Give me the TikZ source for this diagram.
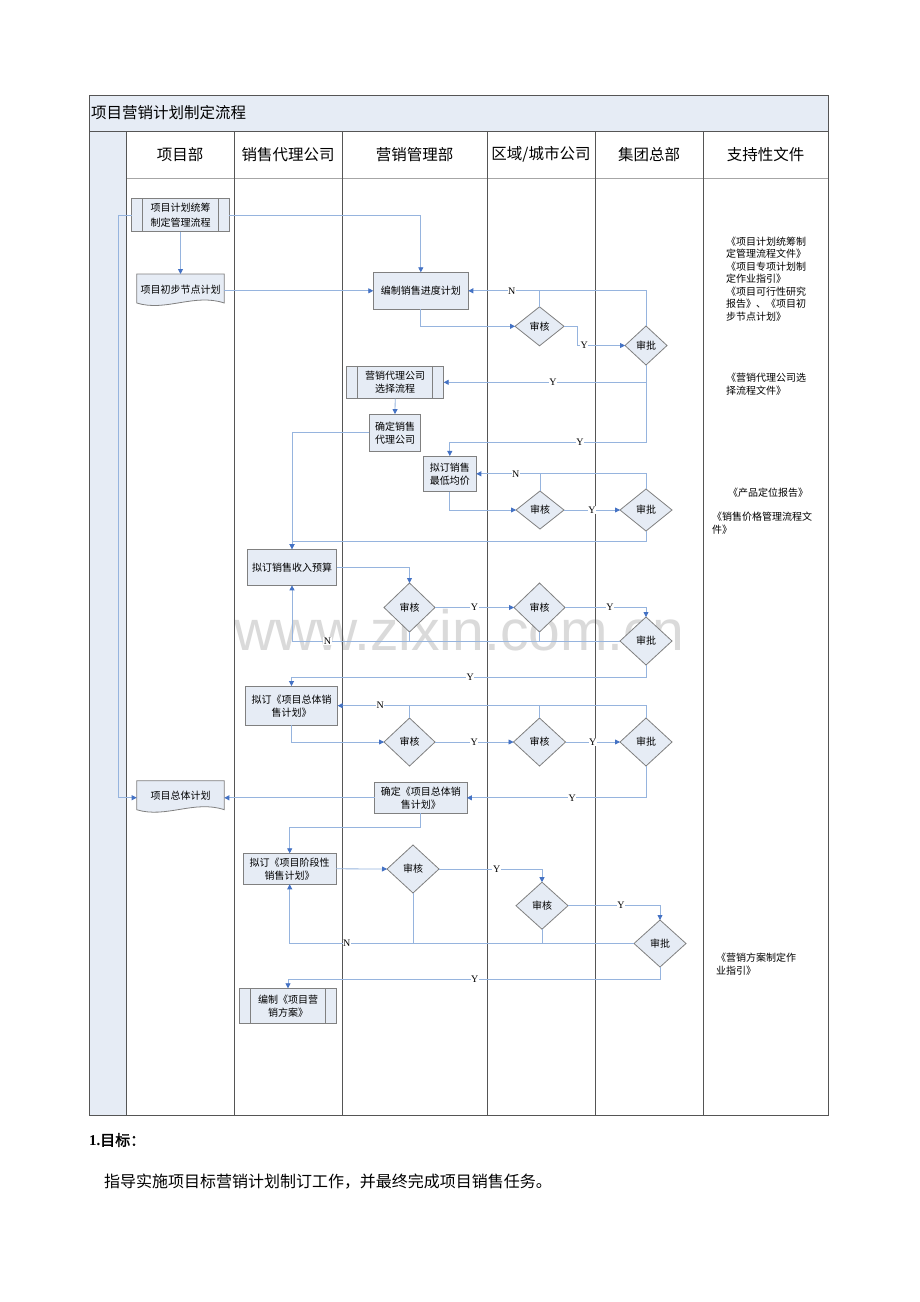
\documentclass[tikz,border=0pt]{standalone}
\usepackage{fontspec}
\usetikzlibrary{arrows.meta,shapes.geometric,calc}
\setmainfont{Liberation Serif}
\newfontfamily\cjk[AutoFakeBold=2]{Noto Sans CJK SC}
\newfontfamily\wmfont{Liberation Sans}
\definecolor{bluefill}{RGB}{230,236,245}
\definecolor{boxline}{RGB}{128,128,128}
\definecolor{connc}{RGB}{150,180,222}
\definecolor{tipc}{RGB}{68,114,196}
\definecolor{gridc}{RGB}{85,85,85}
\definecolor{wmc}{RGB}{218,218,218}
\pgfdeclarelayer{back}
\pgfdeclarelayer{shapes}
\pgfsetlayers{back,shapes,main}
\begin{document}
\begin{tikzpicture}[x=1pt,y=-1pt,
  every node/.style={inner sep=0pt,outer sep=0pt},
  zh/.style={font=\cjk\fontsize{10}{13}\selectfont},
  box/.style={zh,rectangle,draw=boxline,fill=bluefill,line width=0.8pt,align=center},
  dia/.style={zh,diamond,draw=boxline,fill=bluefill,line width=0.8pt},
  doc/.style={zh,rectangle,align=center},
  docshape/.style={draw=boxline,fill=bluefill,line width=0.8pt},
  ppline/.style={draw=boxline,line width=0.8pt},
  conn/.style={draw=connc,line width=0.8pt},
  arr/.style={conn,-{Triangle[length=5pt,width=5pt,color=tipc]}},
  lab/.style={font=\fontsize{10}{10}\selectfont,fill=white,inner sep=0.6pt},
  grid/.style={draw=gridc,line width=0.9pt},
  head/.style={font=\cjk\fontsize{15.5}{15.5}\selectfont},
  sup/.style={font=\cjk\fontsize{10}{12.5}\selectfont,align=left,anchor=west}
]
\useasboundingbox (0,0) rectangle (920,1302);
\begin{pgfonlayer}{back}
\fill[white] (0,0) rectangle (920,1302);
\fill[bluefill] (89,95) rectangle (828,131);
\fill[bluefill] (89,131) rectangle (126,1115);
\node[text=wmc,font=\wmfont\fontsize{57}{57}\selectfont] (wm) at (459,630) {www.zixin.com.cn};
\draw[grid] (89,95) rectangle (828,1115);
\draw[grid] (89,131) -- (828,131);
\draw[draw=gray!70,line width=0.8pt] (126,178) -- (828,178);
\foreach \cx in {126,234,342,487,595,703} {\draw[grid] (\cx,131) -- (\cx,1115);}
\end{pgfonlayer}

% titles
\node[head,anchor=west] (title) at (91,113) {项目营销计划制定流程};
\node[head] (h1) at (180,154.5) {项目部};
\node[head] (h2) at (288,154.5) {销售代理公司};
\node[head] (h3) at (414.5,154.5) {营销管理部};
\node[head] (h4) at (541,154.5) {区域/城市公司};
\node[head] (h5) at (649,154.5) {集团总部};
\node[head] (h6) at (765.5,154.5) {支持性文件};

% nodes
\node[box,minimum width=97.6,minimum height=33.4,font=\cjk\fontsize{10}{15.5}\selectfont] (a1) at (180.5,215) {项目计划统筹\\制定管理流程};
\draw[ppline] ([xshift=11]a1.north west) -- ([xshift=11]a1.south west);
\draw[ppline] ([xshift=-11]a1.north east) -- ([xshift=-11]a1.south east);

\node[doc,minimum width=87.6,minimum height=34] (a2) at (180.5,291) {\raisebox{4pt}{项目初步节点计划}};
\node[doc,minimum width=87.6,minimum height=34] (a3) at (180.5,797.7) {\raisebox{4pt}{项目总体计划}};
\begin{pgfonlayer}{shapes}
\foreach \d in {a2,a3}{
\draw[docshape] (\d.north west) -- (\d.north east) -- ([yshift=5pt]\d.south east)
  .. controls ([xshift=-30pt,yshift=15pt]\d.south east) and ([xshift=29pt,yshift=-4pt]\d.south west)
  .. ([yshift=5pt]\d.south west) -- cycle;}
\end{pgfonlayer}

\node[box,minimum width=95,minimum height=37] (b1) at (420.8,290.8) {编制销售进度计划};
\node[dia,minimum width=49,minimum height=39] (d1) at (539.5,326.3) {审核};
\node[dia,minimum width=42,minimum height=39] (e1) at (646,345.5) {审批};
\node[box,minimum width=97,minimum height=32.7] (b2) at (395.2,382.3) {营销代理公司\\选择流程};
\draw[ppline] ([xshift=11]b2.north west) -- ([xshift=11]b2.south west);
\draw[ppline] ([xshift=-11]b2.north east) -- ([xshift=-11]b2.south east);
\node[box,minimum width=51.4,minimum height=37.3] (b3) at (395,432.7) {确定销售\\代理公司};
\node[box,minimum width=53,minimum height=35.7] (b4) at (449.8,473.8) {拟订销售\\最低均价};
\node[dia,minimum width=48,minimum height=38] (d2) at (540,510) {审核};
\node[dia,minimum width=52,minimum height=42] (e2) at (646,510) {审批};
\node[box,minimum width=89.4,minimum height=36.3] (c1) at (292,567.2) {拟订销售收入预算};
\node[dia,minimum width=51,minimum height=49] (b5) at (409.5,607.5) {审核};
\node[dia,minimum width=51,minimum height=49] (d3) at (539.5,607.5) {审核};
\node[dia,minimum width=52,minimum height=48] (e3) at (646,641) {审批};
\node[box,minimum width=92.4,minimum height=39.3] (c2) at (291.5,705.7) {拟订《项目总体销\\售计划》};
\node[dia,minimum width=51,minimum height=48] (b6) at (409.5,742) {审核};
\node[dia,minimum width=52,minimum height=48] (d4) at (539.5,742) {审核};
\node[dia,minimum width=52,minimum height=48] (e4) at (646,742) {审批};
\node[box,minimum width=92.3,minimum height=31] (b7) at (420.8,797.8) {确定《项目总体销\\售计划》};
\node[box,minimum width=92.7,minimum height=31] (c3) at (289.7,868.8) {拟订《项目阶段性\\销售计划》};
\node[dia,minimum width=52,minimum height=48] (b8) at (413,869) {审核};
\node[dia,minimum width=52,minimum height=47] (d5) at (542,905.7) {审核};
\node[dia,minimum width=52,minimum height=47] (e5) at (660,943.5) {审批};
\node[box,minimum width=97.4,minimum height=35] (c4) at (288,1005.8) {编制《项目营\\销方案》};
\draw[ppline] ([xshift=11]c4.north west) -- ([xshift=11]c4.south west);
\draw[ppline] ([xshift=-11]c4.north east) -- ([xshift=-11]c4.south east);

% support documents
\node[sup] (s1) at (726,279) {《项目计划统筹制\\定管理流程文件》\\《项目专项计划制\\定作业指引》\\《项目可行性研究\\报告》、《项目初\\步节点计划》};
\node[sup] (s2) at (726,384) {《营销代理公司选\\择流程文件》};
\node[sup] (s3) at (728,493) {《产品定位报告》};
\node[sup] (s4) at (712,523) {《销售价格管理流程文\\件》};
\node[sup] (s5) at (716,964) {《营销方案制定作\\业指引》};

% connectors
\draw[arr] (a1.east) -| (b1.north);
\draw[arr] (a1.south) -- (a2.north);
\draw[arr] (a2.east |- b1.west) -- (b1.west);
\draw[arr] (a1.west) -- ++(-13.5,0) |- (a3.west);
\draw[arr] (b1.south) |- (d1.west);
\draw[arr] (d1.north) |- node[lab,pos=0.695]{N} (b1.east);
\draw[conn] (e1.north) |- (d1.north |- b1.east);
\draw[arr] (d1.east) -- ++(13.5,0) |- node[lab,pos=0.57]{Y} (e1.west);
\draw[arr] (e1.south) |- node[lab,pos=0.73]{Y} (b2.east);
\draw[arr] (e1.south) -- ++(0,77) -| node[lab,pos=0.168]{Y} (b4.north);
\draw[arr] (b2.south) -- (b3.north);
\draw[arr] (b3.west) -| (c1.north);
\draw[arr] (b4.south) |- (d2.west);
\draw[arr] (d2.north) |- node[lab,pos=0.69]{N} (b4.east);
\draw[conn] (e2.north) |- (d2.north |- b4.east);
\draw[arr] (d2.east) -- node[lab]{Y} (e2.west);
\draw[arr] (e2.south) -- ++(0,10) -| (c1.north);
\draw[arr] (c1.east) -| (b5.north);
\draw[arr] (b5.east) -- node[lab]{Y} (d3.west);
\draw[arr] (d3.east) -| node[lab,pos=0.278]{Y} (e3.north);
\draw[conn] (b5.south) |- (c1.south |- e3.west);
\draw[conn] (d3.south) |- (c1.south |- e3.west);
\draw[arr] (e3.west) -| node[lab,pos=0.446]{N} (c1.south);
\draw[arr] (e3.south) -- ++(0,12) -| node[lab,pos=0.248]{Y} (c2.north);
\draw[arr] (c2.south) |- (b6.west);
\draw[conn] (b6.north) |- (c2.east);
\draw[conn] (d4.north) |- (c2.east);
\draw[arr] (e4.north) |- node[lab,pos=0.931]{N} (c2.east);
\draw[arr] (b6.east) -- node[lab]{Y} (d4.west);
\draw[arr] (d4.east) -- node[lab]{Y} (e4.west);
\draw[arr] (e4.south) |- node[lab,pos=0.706]{Y} (b7.east);
\draw[arr] (b7.west) -- (b7.west -| a3.east);
\draw[arr] (b7.south) -- ++(0,14) -| (c3.north);
\draw[arr] (c3.east) -- (b8.west);
\draw[arr] (b8.east) -| node[lab,pos=0.28]{Y} (d5.north);
\draw[arr] (d5.east) -| node[lab,pos=0.288]{Y} (e5.north);
\draw[conn] (b8.south) |- (c3.south |- e5.west);
\draw[conn] (d5.south) |- (c3.south |- e5.west);
\draw[arr] (e5.west) -| node[lab,pos=0.417]{N} (c3.south);
\draw[arr] (e5.south) -- ++(0,12) -| node[lab,pos=0.249]{Y} (c4.north);

% text below
\node[anchor=west] (goal) at (89,1140) {\fontsize{15}{15}\selectfont\bfseries 1.{\cjk\bfseries 目标：}};
\node[anchor=west,font=\cjk\fontsize{16}{16}\selectfont] (desc) at (104,1182) {指导实施项目标营销计划制订工作，并最终完成项目销售任务。};
\end{tikzpicture}
\end{document}
